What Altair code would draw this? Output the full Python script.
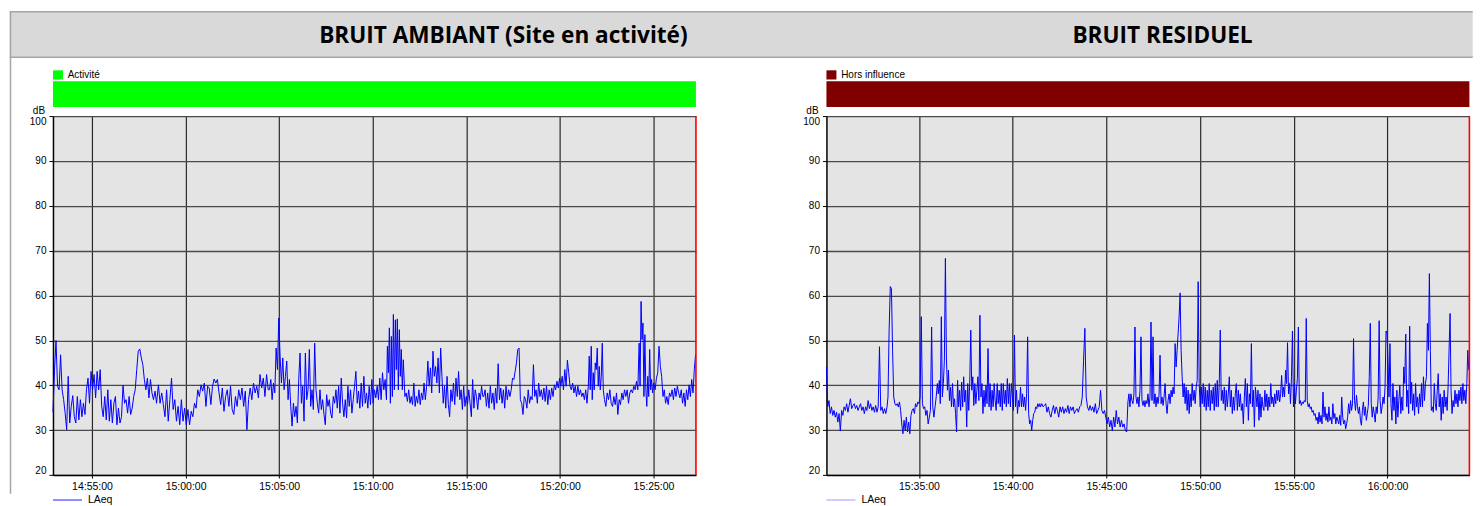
import altair as alt
import pandas as pd

# ---------------- data (LAeq, dB) ----------------
DAY = "2024-01-01"

# BRUIT AMBIANT (site en activité)
AMB_A1 = [34, 43.3, 50, 39.8, 39, 46.8, 39, 36.8, 33.8, 30.1, 42, 31.6, 35.3, 37.7, 33, 31.6, 37.5, 32.3, 36.8, 33, 36,
          33.5, 39, 41.6, 36, 43.1, 39, 42.4, 37.2, 43.1, 39, 43.5, 35.3, 33, 37.5, 32.3, 39, 32, 36.8, 31.6, 36,
          37.5, 31.2, 34.9, 31.6, 33, 40, 36, 36.8, 33.8, 37.5, 33.5, 34.9, 37.5, 39, 43.5, 47.6, 48.1, 46.1, 44.6, 41.3,
          39, 41.6, 37.2, 41.3, 38.3, 36.8, 38.7, 36]
AMB_A2 = [40.1, 36, 38.3, 35.7, 33, 39, 32, 36.8, 41.6, 34.6, 36.8, 32, 35.3, 31.2, 36.8, 32, 34.9, 31.2, 34.6, 31.2,
          34.2, 33, 36, 34.9, 39, 37.5, 40.1, 38.7, 40.5, 35.3, 39.8, 39.4, 35.7, 39.8, 41.4, 40.5, 41.3, 38.3, 35.7, 39.4,
          34.2, 37.5, 39, 35.3, 39.8, 34.6, 33.5, 37.5, 35.3, 39, 36.8, 39.4, 35.3, 38.7, 30.1, 36.8, 39.4, 36.8, 40.5,
          38.3, 39.8, 37.2, 42.4, 39.4, 41.6, 37.5, 42.4, 39]
AMB_B1 = [39, 41.3, 36.8, 40.5, 38.3, 48.3, 43.5, 55, 46.5,
          40.5, 46.1, 39, 42, 45.4, 36.8, 41.3, 35.3, 30.9, 36, 33, 35.3, 31.6, 41.3, 47.2, 36, 39.8, 32, 47.2, 36.8, 39,
          48, 35.3, 39, 34.6, 49.4,
          39, 36, 33.8, 39, 34.6, 36.8, 33.5, 31.2, 37.9, 35.3, 36.8, 33.8, 32.7, 37.5, 36, 39, 34.9, 39.8, 33.8, 41.6,
          36, 33, 36.8, 32.7, 39.8, 35.3, 39, 33.8, 36.8, 39.8, 43.1, 36, 38.7, 34.9, 40.5, 35.3, 42, 36, 38.3, 34.9,
          39.8, 35.7, 41.3, 36, 39, 37.2, 39.8, 36.8, 41.6, 36.8, 42.8, 39, 41.3, 36.8]
AMB_B2 = [48.7, 42.8, 52.8, 36, 50.9, 37.5, 55.8, 39, 54.6, 43.5, 54.8, 39, 52.4, 42, 48, 39, 45.7]
AMB_B3 = [37.5, 38.3, 36.4, 39, 36, 37.5, 35.7, 40.5, 35.3, 37.5, 36, 39, 35.7, 38.3, 36.8, 40.5, 36.8, 39.8,
          45.4, 39.8, 43.9, 38.3, 47.6, 42, 44.2, 40.5, 46.1, 38.3, 48.3, 42,
          36, 39.8, 34.9, 42, 35.7, 33, 39, 36.4, 40.5, 35.7, 41.6, 37.5, 43.1, 36.8, 39, 34.6, 39.8, 35.3, 37.5, 35.7,
          39, 36, 33, 41.3, 34.9, 39, 37.5, 34.6, 38.3, 36.8, 39.8, 37.5]
AMB_C1 = [37.5, 39, 35.3, 38.3, 34.9, 39.8, 36, 38.3, 34.6, 39.4, 36,
          44.8, 36.8, 39.4, 36, 39, 34.9, 39.8, 36.8, 39, 37.5, 39, 41.6, 41.3, 43.1, 45, 48, 48.3, 36.8,
          36, 33.5, 37.5, 36.8, 34.9, 39, 36, 37.5, 36.8, 44.6, 37.5,
          39, 36, 40.5, 37.5, 39, 36.8, 39.4, 36.4, 39.8, 35.7, 39, 36.8, 39.4, 37.5, 40.1, 39, 40.9, 39.4, 41.6, 39.8,
          42, 39, 43.5, 39.8, 45.6, 42.8, 39.8, 39, 40.5, 38.3, 39.8, 37.5, 39.8, 37.9, 39, 37.5, 38.3, 36.8, 39, 36,
          39.8]
AMB_C2 = [46.5, 39, 48.7, 36.8, 42.8, 39, 45, 43.5, 48.3, 39.8, 44.2, 39, 42, 49.4, 39]
AMB_C3 = [36.8, 35.3, 38.3, 36.8, 39, 36, 35.3, 37.5, 35.7, 38.3, 33.5, 36.8, 35.7, 38.3, 36.8, 39, 37.5, 39, 36,
          38.3, 39, 38.3, 39.8, 39, 40.9, 39, 49.4]
AMB_C4 = [39.8, 58.7, 50.2, 53.9, 37.5, 51.3, 39, 35.3, 42, 37.5, 48, 39, 41.3, 38.3]
AMB_C5 = [40.5, 39, 41.6, 42.8, 48.7, 44.2, 42, 37.5, 39, 36, 37.5, 35.7, 38.3, 37.5, 39, 36.8, 39.4, 37.5, 39.8,
          38.3, 37.2, 39, 36, 38.3, 35.3, 39, 36.8, 40.1, 37.5, 41.3, 38.3, 43.5, 47]

# BRUIT RESIDUEL
RES_D1A = [44.1, 35.2, 36.6, 33.7, 35.2, 33.3, 34.4, 32.9, 34, 31.8,
           33.7, 29.8, 34.4, 33.3, 35.2, 34.4, 35.9, 34, 35.5, 37, 34.8, 35.5, 35.9, 34.8, 35.5, 34.4, 35.2, 35.9, 34.4,
           35.2, 33.7, 35.2, 34.4, 36.6, 34.8, 35.9, 34.4, 35.2, 34, 35.5, 34, 35.2,
           48.6, 34.4, 35.2, 33.7, 34.8, 33.7, 35.2]
RES_D1B = [37.4, 52.3, 62, 61.6, 47.8, 37.4, 35.9, 35.5, 35.9,
           35.2, 36.3, 34.4, 31.4, 29.2, 32.2, 29.9, 32.9, 29.6, 31.8, 29.2, 33.3,
           34.4, 34.8, 33.7, 35.9, 35.2, 36.3, 35.9, 37.4, 55.3, 35.9,
           34.8, 35.2, 33.3, 34.4, 31.4, 32.9, 34.4, 53, 35.2, 32.9, 35.2, 37.4, 40.4]
RES_D2 = [38.1, 41.1, 35.9, 55.3, 37.4, 40.4, 45.6, 68.3, 46.3, 38.9, 43.4, 36.6, 39.6, 35.2, 40.4, 35.2, 37, 33.7,
          29.6, 41.1, 35.2, 38.9, 34.4, 40.7, 35.2, 41.9, 36.3, 38.9, 30.7, 40.4, 34.4, 40.7, 52.3,
          38.9, 41.9, 35.5, 40.4, 35.9, 38.9, 41.9, 36.6, 55.6, 37.4, 40.4, 33.7, 38.9, 35.2, 40, 35.9, 48.2,
          35.2, 40.4, 34.4, 38.9, 35.2, 40.4, 36.6, 34.4, 40.4, 35.9, 38.9, 35.2, 40.4, 34.4, 40.4, 35.9, 38.9, 35.2,
          41.5, 35.9, 40.4, 35.2, 40.4, 37.4, 34.4, 51.2,
          35.2, 38.9, 33.7, 36.6, 35.2, 39.6, 35.2, 38.1, 35.2, 37.4, 34.4,
          38.1, 50.8, 33.7, 31.4, 32.2, 29.9, 32.2, 33.7, 34, 35.2, 34.8, 35.9, 35.2, 35.9]
RES_E1 = [35.2, 35.9, 35.2, 35.5, 35.9, 34, 35.2, 33.7, 32.9, 34.4, 35.5, 33.7, 35.2, 34.4, 32.9, 35.2, 34, 35.2,
          33.7, 34.8, 34, 35.5, 33.7, 35.2, 34.4, 35.2, 33.7, 34.4, 34.8, 34, 35.2, 35.5,
          37.4, 45.6, 52.7, 37.4,
          35.2, 34.4, 35.5, 34.4, 35.2, 34, 35.9, 33.7, 34.4, 35.2, 38.9, 34.4, 33.7, 34.4, 32.9, 31.4,
          32.9, 30.7, 32.2, 29.9, 32.9, 30.7, 34.4, 31.4, 32.9, 30.7, 32.2, 30.7, 31.4, 29.9, 29.6]
RES_E2 = [36.3, 38.1, 35.2, 38.1, 36.6, 35.9, 38.1,
          53, 37.4, 35.9, 37.4, 35.2, 38.9, 50.8, 36.6, 35.5, 36.6, 35.2, 36.6, 35.9, 38.1, 35.2, 37.4, 54.1, 36.6,
          50.8,
          35.9, 38.1, 35.2, 37.4, 35.9, 37.8, 46.7, 35.9, 37.4, 35.5, 37.4, 40.4, 35.9, 33.7, 36.6, 38.1, 35.9, 38.9,
          37.4, 39.6, 38.1, 49.3, 44.1, 47.8, 51.5, 55.3, 60.6, 47.8, 41.9, 37.4, 40.4, 35.9, 39.6, 34.4, 38.9, 33.7,
          38.1, 35.2, 40.4, 36.6, 38.9, 35.9, 39.6, 41.1, 63.1,
          40.4, 35.2, 39.6, 35.9, 40.4, 35.2, 39.6, 34.4, 38.9, 35.2, 40.4, 34.4, 38.9, 35.9, 39.6, 34.4, 40.4, 35.2,
          41.1, 35.2, 40.4,
          52.3, 36.6, 38.9, 35.9, 39.6, 34.4, 38.9, 35.2, 38.1, 41.9, 35.2, 38.9, 33.7, 37.4, 34.4, 38.1, 40.4, 34.4,
          38.9, 35.2, 38.1, 34.4, 35.9, 31.4, 37.4, 41.5, 35.2, 40.4, 32.2, 38.1, 35.9, 49.3, 35.2, 38.9, 30.7, 39.6]
RES_F = [38.1, 35.2, 38.9, 32.2, 38.1, 32.9, 37.4, 35.2, 34.4, 38.9, 35.2, 38.1, 34.4, 37.4, 35.2, 40.4, 35.9, 37.4,
         35.2, 38.1, 35.9, 38.9, 36.6, 38.9, 36.3, 38.1, 42.2, 37.4, 39.6, 37.4, 43.4, 40.4, 49.5, 38.1, 40.4, 35.9,
         41.9, 52.1, 35.2, 40.4, 35.9, 38.9, 41.5, 53,
         35.9, 36.6, 35.5, 36.3, 35.9, 36.6, 36.3, 54.9, 36.6, 35.2, 35.9, 34.8, 35.2, 34, 34.4, 33.3, 33.7, 32.2, 32.9,
         31.4, 34, 31.8, 33.3, 31.4, 38.5, 32.9, 35.2, 32.2, 33.7, 31.8, 35.2, 32.2, 32.9, 31.4, 35.9, 32.6, 33.7, 31.4,
         32.9, 32.2, 31.4, 33.3, 31.1, 37.4, 32.9, 31.4, 32.2, 30.3, 31.4, 32.9, 35.9, 33.7, 36.6, 34.4, 35.9, 50.4,
         36.6, 34.4, 37.8, 35.2, 33.7, 35.2, 32.2, 31.1, 34.4, 36.3, 33.3, 35.2, 32.2, 33.7, 35.5, 41.9, 53.8, 35.9,
         32.9, 35.2, 33.7, 31.8, 35.2, 33.7, 37.4, 54.4, 36.6, 33.7, 35.2, 37.4, 35.9, 39.6, 52.1,
         51.5, 45.6, 37.4, 49.3, 35.9, 32.2, 40.4, 34.4, 37.4, 31.4, 38.9, 32.9, 36.6, 40, 33.7, 37.4, 34.4, 44.1,
         40.4, 51.4,
         35.2, 38.9, 33.7, 53.2, 35.9, 40.7, 34.4, 38.1, 33.3, 40.4, 35.2, 37.4, 33.7, 38.1, 35.2, 40.4, 35.2, 41.9,
         36.6, 40.4, 41.9, 53.8, 47.8, 64.9, 47.8, 34.4, 35.2, 34, 40.4, 35.9, 34.4, 38.9, 42.6, 35.2, 38.1, 32.2,
         37.4, 33.7, 38.9, 35.2, 37.4, 34.4, 39.6, 47.8, 56,
         38.9, 33.7, 36.6, 35.2, 38.9, 35.9, 38.1, 35.2, 38.9, 36.6, 39.6, 35.9, 40.4, 36.6, 38.9, 35.9, 40.4, 47.8,
         43.4]

# (start, end, values) runs of evenly spaced samples
AMB_RUNS = [("14:52:55", "14:58:27", AMB_A1), ("14:58:33", "15:04:25", AMB_A2),
            ("15:04:29", "15:10:44", AMB_B1), ("15:10:47", "15:11:38", AMB_B2),
            ("15:11:43", "15:15:53", AMB_B3), ("15:15:56", "15:21:31", AMB_C1),
            ("15:21:34", "15:22:19", AMB_C2), ("15:22:23", "15:24:14", AMB_C3),
            ("15:24:17", "15:24:57", AMB_C4), ("15:25:01", "15:27:15", AMB_C5)]
RES_RUNS = [("15:30:04", "15:33:18", RES_D1A), ("15:33:21", "15:35:59", RES_D1B),
            ("15:36:02", "15:41:27", RES_D2), ("15:41:29", "15:46:05", RES_E1),
            ("15:46:09", "15:52:57", RES_E2), ("15:52:59", "16:04:20", RES_F)]

AMB_DOMAIN = ["14:52:55", "15:27:16"]
RES_DOMAIN = ["15:30:04", "16:04:22"]
AMB_TICKS = ["14:55:00", "15:00:00", "15:05:00", "15:10:00", "15:15:00", "15:20:00", "15:25:00"]
RES_TICKS = ["15:35:00", "15:40:00", "15:45:00", "15:50:00", "15:55:00", "16:00:00"]
Y_TICKS = [20, 30, 40, 50, 60, 70, 80, 90, 100]

TITLES = ["BRUIT AMBIANT (Site en activité)", "BRUIT RESIDUEL"]
BAND_LABELS = ["Activité", "Hors influence"]
BAND_COLORS = ["#00ff00", "#800000"]


def runs_to_df(runs):
    parts = []
    for start, end, vals in runs:
        ts = pd.date_range(f"{DAY} {start}", f"{DAY} {end}", periods=len(vals))
        parts.append(pd.DataFrame({"t": ts, "v": vals}))
    return pd.concat(parts, ignore_index=True)


def dt(s):
    h, m, sec = (int(p) for p in s.split(":"))
    return alt.DateTime(year=2024, month=1, date=1, hours=h, minutes=m, seconds=sec)


W, H = 643.4, 359.2
FONT = "Liberation Sans"
one = pd.DataFrame({"a": [0]})
LEFT_EDGE = -43.3


def panel(df, domain, ticks, title, title_x, band_label, band_color, leg_color, first):
    x = alt.X("t:T", title=None,
              scale=alt.Scale(domain=[dt(domain[0]), dt(domain[1])]),
              axis=alt.Axis(values=[dt(t) for t in ticks], format="%H:%M:%S", labelFlush=False,
                            labelFontSize=10.5, tickSize=3, labelPadding=3,
                            gridColor="#2a2a2a", gridWidth=1.2, domainWidth=1.5))
    y = alt.Y("v:Q", title=None,
              scale=alt.Scale(domain=[20, 100], nice=False),
              axis=alt.Axis(values=Y_TICKS, labelFlush=True, labelFontSize=10, tickSize=4,
                            labelPadding=3, gridColor="#4a4a4a", gridWidth=1.3, domainWidth=1.5))
    layers = []
    if first:
        layers.append(alt.Chart(one).mark_rect(color="#d9d9d9").encode(
            x=alt.value(LEFT_EDGE), x2=alt.value(1420.7), y=alt.value(-104.8), y2=alt.value(-58.8)))
        for yy in (-104.3, -58.8):
            layers.append(alt.Chart(one).mark_rule(color="#a6a6a6", strokeWidth=1.5).encode(
                x=alt.value(LEFT_EDGE), x2=alt.value(1420.7), y=alt.value(yy)))
        layers.append(alt.Chart(one).mark_rule(color="#a6a6a6", strokeWidth=1.5).encode(
            x=alt.value(LEFT_EDGE + 0.8), y=alt.value(-104.3), y2=alt.value(378)))
    layers.append(alt.Chart(one).mark_text(font="Open Sans", fontWeight="bold", fontSize=22.6, align="center",
                                           baseline="alphabetic", color="#000000").encode(
        x=alt.value(title_x), y=alt.value(-73.5), text=alt.value(title)))
    band = pd.DataFrame({"s": [pd.Timestamp(f"{DAY} {domain[0]}")], "e": [pd.Timestamp(f"{DAY} {domain[1]}")]})
    layers.append(alt.Chart(band).mark_rect(color=band_color).encode(
        x=alt.X("s:T", scale=alt.Scale(domain=[dt(domain[0]), dt(domain[1])])), x2="e:T",
        y=alt.value(-34.8), y2=alt.value(-9.1)))
    layers.append(alt.Chart(one).mark_rect(color=band_color).encode(
        x=alt.value(0), x2=alt.value(10), y=alt.value(-45.8), y2=alt.value(-36.6)))
    layers.append(alt.Chart(one).mark_text(font=FONT, fontSize=10, align="left", baseline="middle",
                                           color="#000000").encode(
        x=alt.value(14.7), y=alt.value(-41.3), text=alt.value(band_label)))
    layers.append(alt.Chart(one).mark_text(font=FONT, fontSize=10, align="center", baseline="middle",
                                           color="#000000").encode(
        x=alt.value(-14), y=alt.value(-4.8), text=alt.value("dB")))
    layers.append(alt.Chart(df).mark_line(color="#0000ff", strokeWidth=1).encode(x=x, y=y))
    layers.append(alt.Chart(one).mark_rule(color="#ff0000", strokeWidth=1.6).encode(
        x=alt.value(W), y=alt.value(0), y2=alt.value(H)))
    layers.append(alt.Chart(one).mark_rule(color=leg_color, strokeWidth=1).encode(
        x=alt.value(0), x2=alt.value(29), y=alt.value(384.2)))
    layers.append(alt.Chart(one).mark_text(font=FONT, fontSize=10.5, align="left", baseline="middle",
                                           color="#000000").encode(
        x=alt.value(35), y=alt.value(384.2), text=alt.value("LAeq")))
    return alt.layer(*layers).properties(width=W, height=H)


left = panel(runs_to_df(AMB_RUNS), AMB_DOMAIN, AMB_TICKS, TITLES[0], 450.7,
             BAND_LABELS[0], BAND_COLORS[0], "#2020ff", True)
right = panel(runs_to_df(RES_RUNS), RES_DOMAIN, RES_TICKS, TITLES[1], 336.3,
              BAND_LABELS[1], BAND_COLORS[1], "#9a9aff", False)

chart = alt.hconcat(left, right, spacing=130, bounds="flush").properties(
    padding={"left": 0, "top": 2, "right": 0, "bottom": 0}
).configure_view(fill="#e4e4e4", stroke="transparent").configure_axis(
    labelFont=FONT, labelColor="#000000", domainColor="#000000", tickColor="#000000"
)

chart.save("out.html", embed_options={"renderer": "svg", "actions": False})
